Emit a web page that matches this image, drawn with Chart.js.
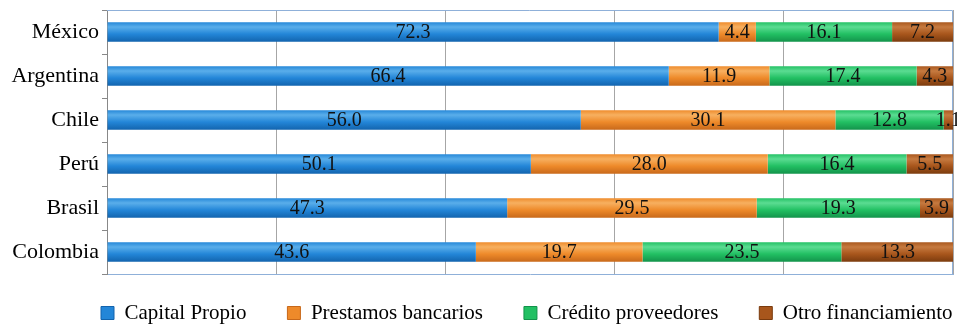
<!DOCTYPE html>
<html>
<head>
<meta charset="utf-8">
<script src="https://cdn.jsdelivr.net/npm/chart.js@4/dist/chart.umd.min.js"></script>
<style>
  html, body { margin: 0; padding: 0; background: #ffffff; }
  #wrap { width: 957px; height: 327px; position: relative; }
</style>
</head>
<body>
<div id="wrap"><canvas id="c" width="957" height="327"></canvas></div>
<script>
const categories = ['México', 'Argentina', 'Chile', 'Perú', 'Brasil', 'Colombia'];
const seriesNames = ['Capital Propio', 'Prestamos bancarios', 'Crédito proveedores', 'Otro financiamiento'];
const capitalPropio = [72.3, 66.4, 56.0, 50.1, 47.3, 43.6];
const prestamosBancarios = [4.4, 11.9, 30.1, 28.0, 29.5, 19.7];
const creditoProveedores = [16.1, 17.4, 12.8, 16.4, 19.3, 23.5];
const otroFinanciamiento = [7.2, 4.3, 1.1, 5.5, 3.9, 13.3];
const xTicks = [0, 20, 40, 60, 80, 100];

const palettes = [
  ['#5aaeea', '#2386d8', '#1263ad'],
  ['#f7b060', '#ee8a2a', '#c7681a'],
  ['#5bdc92', '#22c063', '#12924a'],
  ['#c67a40', '#a8561c', '#7a3b0e']
];

function gradFor(idx) {
  return function(ctx) {
    const chart = ctx.chart;
    const p = palettes[idx];
    const ys = chart.scales && chart.scales.y;
    if (!ys || ctx.dataIndex === undefined || !chart.chartArea) return p[1];
    const cy = ys.getPixelForValue(ctx.dataIndex);
    const half = 10;
    const g = chart.ctx.createLinearGradient(0, cy - half, 0, cy + half);
    g.addColorStop(0, p[1]);
    g.addColorStop(0.25, p[0]);
    g.addColorStop(0.6, p[1]);
    g.addColorStop(1, p[2]);
    return g;
  };
}

const seriesValues = [capitalPropio, prestamosBancarios, creditoProveedores, otroFinanciamiento];

const datasets = seriesNames.map((name, i) => ({
  label: name,
  data: seriesValues[i],
  backgroundColor: gradFor(i),
  borderWidth: 0,
  barPercentage: 0.44,
  categoryPercentage: 1.0
}));

const serif = "'Liberation Serif', 'Times New Roman', serif";
const LEGEND_PAD = 41;
const LEGEND_FONT = 21;

const valueLabels = {
  id: 'valueLabels',
  afterDatasetsDraw(chart) {
    const ctx = chart.ctx;
    ctx.save();
    ctx.font = '20px ' + serif;
    ctx.fillStyle = '#111111';
    ctx.textAlign = 'center';
    ctx.textBaseline = 'middle';
    chart.data.datasets.forEach((ds, di) => {
      const meta = chart.getDatasetMeta(di);
      meta.data.forEach((el, i) => {
        const v = ds.data[i];
        const c = el.getCenterPoint();
        ctx.fillText(v.toFixed(1), c.x, c.y + 1);
      });
    });
    ctx.restore();
  }
};

const frame = {
  id: 'frame',
  afterLayout(chart) {
    const lg = chart.legend;
    if (lg && lg.lineWidths) {
      const start = (lg.left + LEGEND_PAD + lg.right - lg.lineWidths[0]) / 2;
      const shift = 101 - start;
      lg.left += shift; lg.right += shift;
      lg.top = 313 - LEGEND_PAD - LEGEND_FONT / 2;
    }
  },
  beforeDatasetsDraw(chart) {
    const a = chart.chartArea;
    const ctx = chart.ctx;
    ctx.save();
    ctx.strokeStyle = '#8fb0d9';
    ctx.lineWidth = 1;
    ctx.beginPath();
    ctx.moveTo(a.left, a.top + 0.5);
    ctx.lineTo(a.right - 0.5, a.top + 0.5);
    ctx.lineTo(a.right - 0.5, a.bottom);
    ctx.stroke();
    ctx.restore();
  }
};

new Chart(document.getElementById('c'), {
  type: 'bar',
  data: { labels: categories, datasets: datasets },
  options: {
    indexAxis: 'y',
    responsive: false,
    animation: false,
    layout: { padding: { top: 10, right: 4, left: 0, bottom: 0 } },
    scales: {
      x: {
        stacked: true,
        min: 0, max: 100,
        afterBuildTicks(scale) { scale.ticks = xTicks.map(v => ({ value: v })); },
        ticks: { display: false },
        grid: { color: '#a6a6a6', drawTicks: false, lineWidth: 1 },
        border: { display: true, color: '#8fb0d9' },
        afterFit(scale) { scale.height = 0; scale.paddingLeft = 0; scale.paddingRight = 0; }
      },
      y: {
        stacked: true,
        ticks: { color: '#000000', font: { family: serif, size: 22 }, padding: 3 },
        grid: { drawOnChartArea: false, drawTicks: true, tickLength: 5, color: '#888888', offset: true },
        border: { display: true, color: '#888888' },
        afterFit(scale) { scale.width = 107; scale.paddingTop = 0; scale.paddingBottom = 0; }
      }
    },
    plugins: {
      legend: {
        position: 'bottom',
        maxHeight: 53,
        labels: {
          color: '#000000',
          font: { family: serif, size: LEGEND_FONT },
          boxWidth: 13,
          boxHeight: 13,
          padding: LEGEND_PAD,
          generateLabels(chart) {
            return chart.data.datasets.map((ds, i) => ({
              text: ds.label,
              fillStyle: palettes[i][1],
              strokeStyle: palettes[i][2],
              lineWidth: 1,
              datasetIndex: i,
              hidden: false
            }));
          }
        }
      },
      tooltip: { enabled: false }
    }
  },
  plugins: [valueLabels, frame]
});
</script>
</body>
</html>
